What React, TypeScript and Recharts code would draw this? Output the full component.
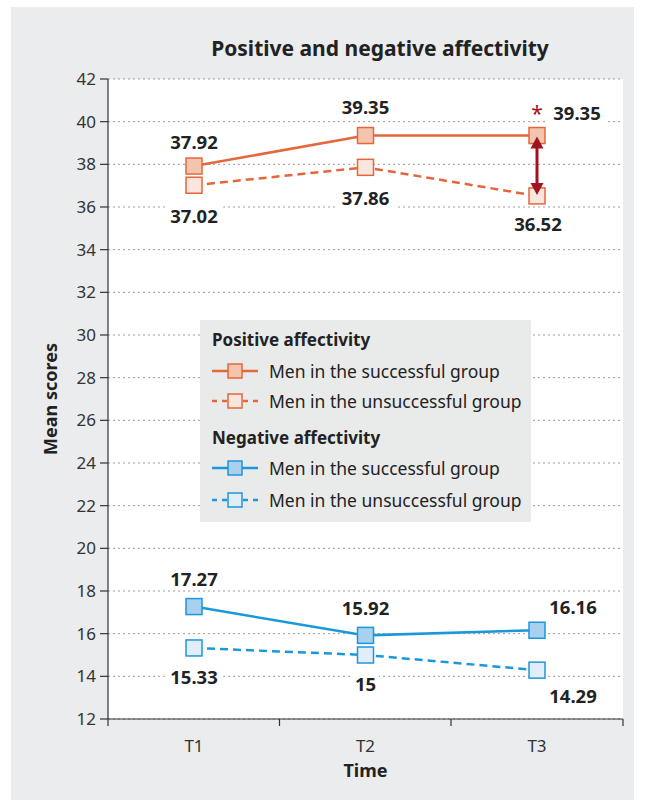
import React from 'react';
import { LineChart, Line, XAxis, YAxis, CartesianGrid, Legend, LabelList, ReferenceLine } from 'recharts';

// ---------- data ----------
const categories = ['T1', 'T2', 'T3'];
const posSuccessful = [37.92, 39.35, 39.35];
const posUnsuccessful = [37.02, 37.86, 36.52];
const negSuccessful = [17.27, 15.92, 16.16];
const negUnsuccessful = [15.33, 15, 14.29];
const yTicks = [12, 14, 16, 18, 20, 22, 24, 26, 28, 30, 32, 34, 36, 38, 40, 42];
const significantAt = 'T3';
const groupTitles = ['Positive affectivity', 'Negative affectivity'];
const seriesName = ['Men in the successful group', 'Men in the unsuccessful group'];

const data = categories.map((t, i) => ({
  time: t,
  posS: posSuccessful[i],
  posU: posUnsuccessful[i],
  negS: negSuccessful[i],
  negU: negUnsuccessful[i],
}));

// ---------- styles ----------
const FONT = '"Noto Sans", "Open Sans", sans-serif';
const ORANGE = '#e4673b';
const ORANGE_FILL = '#f4c5ae';
const ORANGE_LIGHT = '#fbe6dd';
const BLUE = '#1b98da';
const BLUE_FILL = '#a9d0ef';
const BLUE_LIGHT = '#e1eef9';
const DARK_RED = '#a1131f';
const AXIS = '#333';
const TEXT = '#222';
const BG = '#ebeced';
const HALF_BAND = 86;

// label offsets (dx, dy) relative to each point, per series
const labelOffsets: Record<string, number[][]> = {
  posS: [[0, -25], [0, -29], [40, -23]],
  posU: [[0, 30], [0, 30], [1, 28]],
  negS: [[0, -28], [0, -28], [36, -24]],
  negU: [[0, 29], [0, 28], [36, 25]],
};

const seriesDefs = [
  { key: 'posS', group: 0, name: seriesName[0], stroke: ORANGE, fill: ORANGE_FILL, dashed: false, star: true },
  { key: 'posU', group: 0, name: seriesName[1], stroke: ORANGE, fill: ORANGE_LIGHT, dashed: true, star: false },
  { key: 'negS', group: 1, name: seriesName[0], stroke: BLUE, fill: BLUE_FILL, dashed: false, star: false },
  { key: 'negU', group: 1, name: seriesName[1], stroke: BLUE, fill: BLUE_LIGHT, dashed: true, star: false },
];

const makeDot = (stroke: string, fill: string) => (props: any) => {
  const { cx, cy, index } = props;
  if (cx == null || cy == null) return <g key={index} />;
  return (
    <rect key={index} x={cx - 8} y={cy - 8} width={16} height={16} fill={fill} stroke={stroke} strokeWidth={1.5} />
  );
};

const makeLabel = (key: string, star: boolean) => (props: any) => {
  const { x, y, value, index } = props;
  if (x == null || y == null) return null;
  const [dx, dy] = labelOffsets[key][index];
  const cx = x + dx;
  const cy = y + dy;
  const txt = String(value);
  const w = txt.length * 10.5 + 6;
  return (
    <g key={`${key}-${index}`}>
      <rect x={cx - w / 2} y={cy - 11} width={w} height={22} fill="#fff" />
      <text x={cx} y={cy} textAnchor="middle" dominantBaseline="central" fontFamily={FONT} fontWeight={700} fontSize={18.5} fill={TEXT}>
        {txt}
      </text>
      {star && categories[index] === significantAt ? (
        <text x={x} y={y - 15} textAnchor="middle" fontFamily={FONT} fontSize={21} fill={DARK_RED}>
          *
        </text>
      ) : null}
    </g>
  );
};

const ArrowShape = (props: any) => {
  const { x1, y1, x2, y2 } = props;
  if ([x1, y1, x2, y2].some((v) => v == null || isNaN(v))) return null;
  const top = Math.min(y1, y2) + 1;
  const bot = Math.max(y1, y2) - 1;
  const x = x1;
  const h = 12;
  const hw = 6.5;
  return (
    <g>
      <line x1={x} y1={top + h - 1} x2={x} y2={bot - h + 1} stroke={DARK_RED} strokeWidth={3} />
      <polygon points={`${x},${top} ${x - hw},${top + h} ${x + hw},${top + h}`} fill={DARK_RED} />
      <polygon points={`${x},${bot} ${x - hw},${bot - h} ${x + hw},${bot - h}`} fill={DARK_RED} />
    </g>
  );
};

const XTick = (props: any) => {
  const { x, y, payload, index } = props;
  const last = index === categories.length - 1;
  return (
    <g>
      <line x1={x - HALF_BAND} y1={y} x2={x - HALF_BAND} y2={y + 7} stroke={AXIS} strokeWidth={1.2} />
      {last ? <line x1={x + HALF_BAND} y1={y} x2={x + HALF_BAND} y2={y + 7} stroke={AXIS} strokeWidth={1.2} /> : null}
      <text x={x} y={y + 26} textAnchor="middle" dominantBaseline="central" fontFamily={FONT} fontSize={17} fill={AXIS}>
        {payload.value}
      </text>
    </g>
  );
};

const LegendIcon = ({ stroke, fill, dashed }: any) => (
  <svg width={46} height={16} style={{ display: 'block' }}>
    {dashed ? (
      <g>
        <line x1={0} y1={8} x2={16} y2={8} stroke={stroke} strokeWidth={2.5} strokeDasharray="5 5" />
        <line x1={46} y1={8} x2={30} y2={8} stroke={stroke} strokeWidth={2.5} strokeDasharray="5 5" />
      </g>
    ) : (
      <line x1={0} y1={8} x2={46} y2={8} stroke={stroke} strokeWidth={2.5} />
    )}
    <rect x={16} y={1} width={14} height={14} fill={fill} stroke={stroke} strokeWidth={1.5} />
  </svg>
);

const LegendContent = (props: any) => {
  const keys = (props.payload || []).map((p: any) => p.dataKey);
  const rows: any[] = [];
  const centers = [20, 51, 81, 118, 148, 180];
  let r = 0;
  groupTitles.forEach((title, g) => {
    rows.push(
      <div key={`h${g}`} style={{ position: 'absolute', left: 12, top: centers[r++] - 12, height: 24, lineHeight: '24px', fontWeight: 700, fontSize: 17, color: TEXT, whiteSpace: 'nowrap' }}>
        {title}
      </div>
    );
    seriesDefs
      .filter((s) => s.group === g && keys.includes(s.key))
      .forEach((s) => {
        rows.push(
          <div key={s.key} style={{ position: 'absolute', left: 12, top: centers[r++] - 12, height: 24, display: 'flex', alignItems: 'center', fontSize: 17.5, color: TEXT, whiteSpace: 'nowrap' }}>
            <LegendIcon stroke={s.stroke} fill={s.fill} dashed={s.dashed} />
            <span style={{ marginLeft: 11 }}>{s.name}</span>
          </div>
        );
      });
  });
  return (
    <div style={{ position: 'relative', width: 331, height: 202, background: '#e9ebeb', fontFamily: FONT }}>{rows}</div>
  );
};

export default function App() {
  return (
    <div style={{ position: 'absolute', left: 11, top: 7, width: 623, height: 793, background: BG, fontFamily: FONT }}>
      <div style={{ position: 'absolute', left: 119, width: 500, top: 27, height: 28, lineHeight: '28px', textAlign: 'center', fontWeight: 700, fontSize: 21, color: TEXT }}>
        Positive and negative affectivity
      </div>
      <LineChart width={623} height={793} data={data} margin={{ top: 72, right: 11, bottom: 21, left: 20 }}>
        <CartesianGrid horizontal vertical={false} stroke="#9a9a9a" strokeDasharray="2 3" fill="#fff" fillOpacity={1} />
        <XAxis
          dataKey="time"
          type="category"
          padding={{ left: HALF_BAND, right: HALF_BAND }}
          height={60}
          tickSize={0}
          tickMargin={0}
          tickLine={false}
          axisLine={{ stroke: AXIS, strokeWidth: 1.2 }}
          tick={XTick}
          interval={0}
          label={(p: any) => {
            const vb = p.viewBox || { x: 97, y: 712, width: 515 };
            return (
              <text x={vb.x + vb.width / 2} y={vb.y + 51} textAnchor="middle" dominantBaseline="central" fontFamily={FONT} fontWeight={700} fontSize={18} fill={TEXT}>
                Time
              </text>
            );
          }}
        />
        <YAxis
          type="number"
          domain={[12, 42]}
          ticks={yTicks}
          interval={0}
          width={77}
          tickSize={8}
          tickMargin={4}
          tick={{ fontFamily: FONT, fontSize: 17, fill: AXIS }}
          tickLine={{ stroke: AXIS, strokeWidth: 1.2 }}
          axisLine={{ stroke: AXIS, strokeWidth: 1.2 }}
          label={(p: any) => {
            const vb = p.viewBox || { x: 20, y: 72, height: 640 };
            const cx = vb.x + 19;
            const cy = vb.y + vb.height / 2;
            return (
              <text x={cx} y={cy} transform={`rotate(-90 ${cx} ${cy})`} textAnchor="middle" dominantBaseline="central" fontFamily={FONT} fontWeight={700} fontSize={18} fill={TEXT}>
                Mean scores
              </text>
            );
          }}
        />
        <Legend
          layout="vertical"
          align="center"
          verticalAlign="middle"
          content={LegendContent}
          wrapperStyle={{ left: 189, top: 313, width: 331, height: 202 }}
        />
        {seriesDefs.map((s) => (
          <Line
            key={s.key}
            dataKey={s.key}
            name={s.name}
            stroke={s.stroke}
            strokeWidth={2.5}
            strokeDasharray={s.dashed ? '8 5' : undefined}
            dot={makeDot(s.stroke, s.fill)}
            activeDot={false}
            isAnimationActive={false}
          >
            <LabelList dataKey={s.key} content={makeLabel(s.key, s.star)} />
          </Line>
        ))}
        <ReferenceLine
          segment={[
            { x: significantAt, y: posSuccessful[categories.indexOf(significantAt)] },
            { x: significantAt, y: posUnsuccessful[categories.indexOf(significantAt)] },
          ]}
          shape={ArrowShape}
          zIndex={1500}
        />
      </LineChart>
    </div>
  );
}
